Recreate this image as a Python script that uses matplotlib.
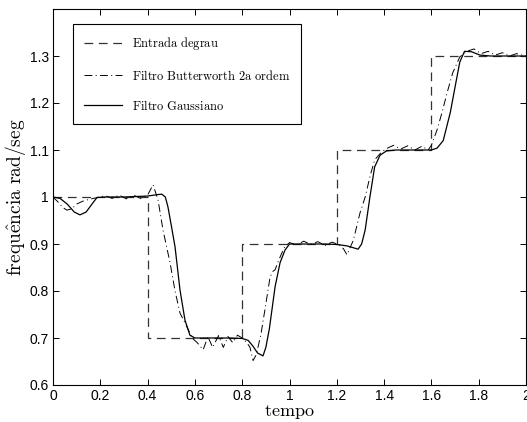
import matplotlib
matplotlib.use("Agg")
import matplotlib.pyplot as plt

plt.rcParams["mathtext.fontset"] = "cm"
plt.rcParams["font.family"] = ["Liberation Sans", "DejaVu Sans"]

# step input
step_t = [0, 0.4, 0.8, 1.2, 1.6, 2.0]
step_y = [1.0, 0.7, 0.9, 1.1, 1.3, 1.3]

# 2nd order Butterworth filter output
butter_t = [0, 0.02, 0.04, 0.059, 0.08, 0.1, 0.13, 0.17, 0.2, 0.22, 0.25, 0.28,
            0.31, 0.34, 0.37, 0.40, 0.423, 0.444, 0.465, 0.495, 0.516, 0.537,
            0.567, 0.588, 0.61, 0.635, 0.655, 0.675, 0.70, 0.72, 0.74, 0.76,
            0.78, 0.80, 0.82, 0.833, 0.846, 0.86, 0.88, 0.896, 0.918, 0.93,
            0.939, 0.95, 0.965, 0.98, 1.0, 1.03, 1.06, 1.09, 1.12, 1.15, 1.18,
            1.21, 1.228, 1.243, 1.27, 1.298, 1.32, 1.34, 1.36, 1.39, 1.41,
            1.44, 1.47, 1.50, 1.53, 1.56, 1.586, 1.60, 1.624, 1.645, 1.666,
            1.69, 1.72, 1.75, 1.78, 1.81, 1.84, 1.87, 1.90, 1.93, 1.96, 2.0]
butter_y = [1.0, 0.99, 0.978, 0.972, 0.975, 0.985, 0.992, 0.997, 1.0, 1.003,
            0.997, 1.004, 0.996, 1.004, 0.997, 1.004, 1.026, 0.994, 0.93, 0.86,
            0.80, 0.753, 0.723, 0.70, 0.69, 0.675, 0.703, 0.68, 0.705, 0.68,
            0.703, 0.69, 0.706, 0.70, 0.69, 0.68, 0.652, 0.665, 0.71, 0.76,
            0.83, 0.842, 0.845, 0.86, 0.878, 0.894, 0.903, 0.898, 0.906, 0.899,
            0.905, 0.897, 0.904, 0.898, 0.89, 0.877, 0.908, 0.966, 1.0, 1.043,
            1.079, 1.096, 1.103, 1.11, 1.102, 1.109, 1.1, 1.108, 1.10, 1.11,
            1.143, 1.18, 1.221, 1.264, 1.298, 1.31, 1.315, 1.305, 1.31, 1.302,
            1.307, 1.3, 1.305, 1.3]

# Gaussian filter output
gauss_t = [0, 0.03, 0.06, 0.09, 0.114, 0.14, 0.165, 0.186, 0.22, 0.3, 0.4,
           0.44, 0.46, 0.475, 0.486, 0.5, 0.516, 0.537, 0.558, 0.579, 0.60,
           0.65, 0.75, 0.8, 0.825, 0.845, 0.865, 0.888, 0.90, 0.915, 0.939,
           0.96, 0.981, 1.0, 1.05, 1.15, 1.2, 1.243, 1.27, 1.29, 1.305, 1.32,
           1.34, 1.36, 1.383, 1.41, 1.45, 1.55, 1.6, 1.624, 1.65, 1.68, 1.70,
           1.72, 1.74, 1.77, 1.805, 1.85, 2.0]
gauss_y = [1.0, 0.997, 0.985, 0.968, 0.962, 0.968, 0.985, 0.999, 1.0, 1.0,
           1.002, 1.005, 1.006, 1.0, 0.979, 0.94, 0.894, 0.802, 0.738, 0.706,
           0.70, 0.70, 0.70, 0.699, 0.695, 0.683, 0.668, 0.662, 0.68, 0.72,
           0.809, 0.86, 0.887, 0.9, 0.9, 0.9, 0.899, 0.896, 0.892, 0.889, 0.9,
           0.93, 1.0, 1.064, 1.089, 1.098, 1.1, 1.1, 1.1, 1.104, 1.12, 1.18,
           1.234, 1.287, 1.31, 1.309, 1.302, 1.3, 1.3]

fig = plt.figure(figsize=(5.27, 4.22), dpi=100)
ax = fig.add_axes([53 / 527, 37 / 422, 473 / 527, 376 / 422])

ax.plot(step_t, step_y, drawstyle="steps-post", color="#333333", lw=0.9,
        dashes=(7, 4.5), label=r"$\mathrm{Entrada\ degrau}$")
ax.plot(butter_t, butter_y, color="k", lw=0.7, linestyle=(0, (8, 3.5, 1, 3.5)),
        label=r"$\mathrm{Filtro\ Butterworth\ 2a\ ordem}$")
ax.plot(gauss_t, gauss_y, color="k", lw=0.9,
        label=r"$\mathrm{Filtro\ Gaussiano}$")

ax.set_xlim(0, 2)
ax.set_ylim(0.6, 1.4)
ax.set_xticks([0, 0.2, 0.4, 0.6, 0.8, 1, 1.2, 1.4, 1.6, 1.8, 2])
ax.set_xticklabels(["0", "0.2", "0.4", "0.6", "0.8", "1", "1.2", "1.4", "1.6", "1.8", "2"])
ax.set_yticks([0.6, 0.7, 0.8, 0.9, 1.0, 1.1, 1.2, 1.3])
ax.set_yticklabels(["0.6", "0.7", "0.8", "0.9", "1", "1.1", "1.2", "1.3"])
ax.tick_params(direction="in", top=True, right=True, length=4, width=0.7,
               labelsize=10, pad=3)
for s in ax.spines.values():
    s.set_linewidth(0.8)

ax.set_xlabel(r"$\mathrm{tempo}$", fontsize=13, labelpad=0)
ax.set_ylabel(r"$\mathrm{frequ\hat{e}ncia\ rad/seg}$", fontsize=14, labelpad=1)

leg = ax.legend(loc="upper left", bbox_to_anchor=(0.042, 0.96), borderaxespad=0,
                fontsize=9, fancybox=False, framealpha=1, edgecolor="k",
                handlelength=3.0, labelspacing=1.3, borderpad=0.9)
leg.get_frame().set_linewidth(0.8)

fig.savefig("out.png", dpi=100)
